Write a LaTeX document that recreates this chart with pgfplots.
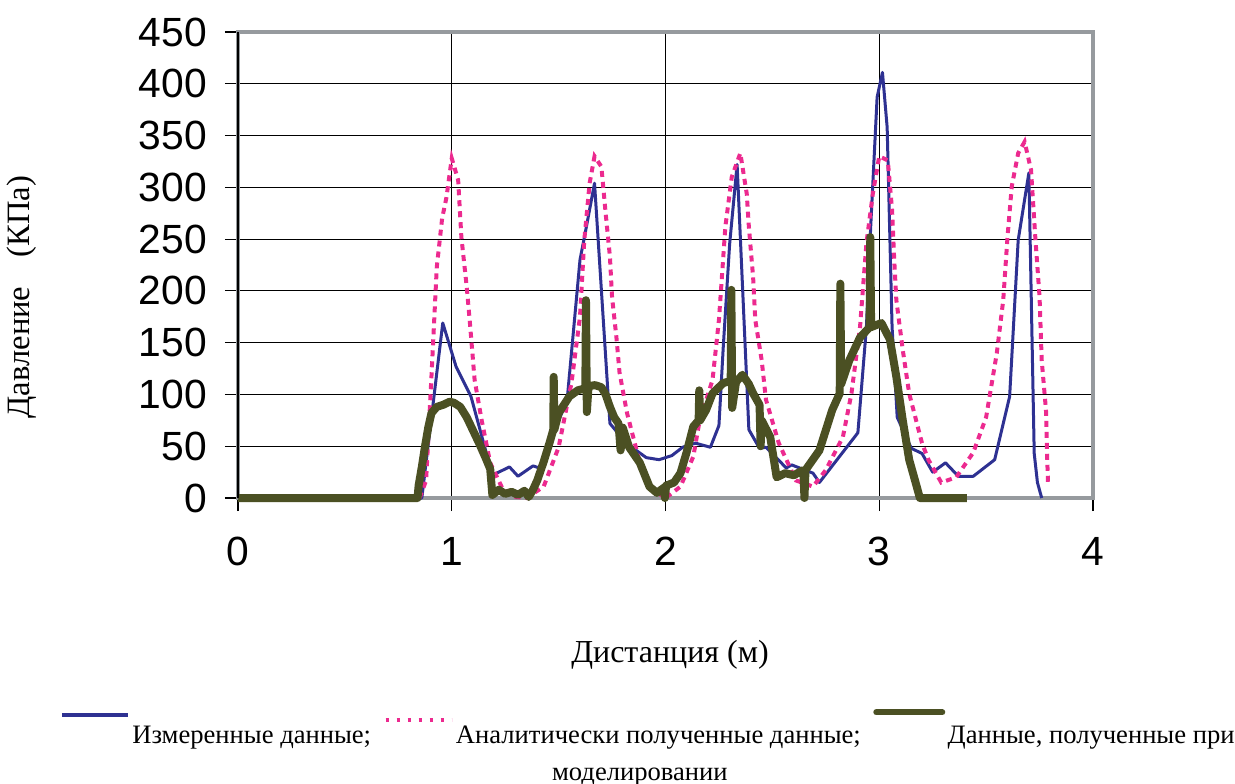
\documentclass[border=0pt]{standalone}
\usepackage{fontspec}
\setmainfont{Liberation Serif}
\newfontfamily\arialfont{Liberation Sans}
\usepackage{pgfplots}
\pgfplotsset{compat=1.18}
\definecolor{cblue}{RGB}{46,49,146}
\definecolor{cpink}{RGB}{236,42,143}
\definecolor{colive}{RGB}{75,80,35}
\definecolor{cframe}{RGB}{150,154,158}
\begin{document}
\begin{tikzpicture}
\useasboundingbox (-119pt,-142.5pt) rectangle (498.5pt,249pt);
\begin{axis}[
  at={(0pt,0pt)}, anchor=south west,
  scale only axis, width=427.5pt, height=233pt,
  xmin=0, xmax=4, ymin=0, ymax=450,
  xtick={0,1,2,3,4}, ytick={0,50,...,450},
  grid=major, major grid style={black, line width=0.6pt},
  axis line style={cframe, line width=2pt},
  tick align=outside, tick pos=left, major tick length=6.5pt,
  tick style={black, line width=0.6pt},
  ticklabel style={font=\arialfont\fontsize{20.4}{21}\selectfont},
  yticklabel style={xshift=-5.5pt},
  xticklabel style={yshift=-9.5pt},
  /pgf/number format/assume math mode=true,
  clip=false,
  xlabel={Дистанция (м)},
  xlabel style={at={(axis description cs:0.5053,-0.3369)}, anchor=center, font=\fontsize{16}{19}\selectfont},
  ylabel={Давление\hspace{0.9em}(КПа)},
  ylabel style={at={(axis description cs:-0.2526,0.4313)}, anchor=center, font=\fontsize{16.3}{19}\selectfont},
  legend columns=3,
  legend cell align=left,
  legend style={draw=none, fill=none, at={(axis description cs:-0.2082,-0.4536)}, anchor=north west,
    inner sep=0pt, outer sep=0pt, font=\fontsize{13.3}{16}\selectfont,
    nodes={inner sep=0pt},
    /tikz/every odd column/.append style={column sep=1.2pt},
    /tikz/every even column/.append style={column sep=6.2pt}},
]
\addplot[cblue, line width=1.5pt, line join=round,
  legend image code/.code={\draw[cblue, line width=2pt] (0pt,10.5pt) -- (33pt,10.5pt);}]
coordinates {
(0,0)(0.86,0)(0.958,169)(1.02,127)(1.09,98)(1.19,22)(1.27,30)(1.31,21)(1.38,31)(1.41,29)
(1.54,95)(1.60,230)(1.63,262)(1.668,304)(1.74,72)(1.816,53)(1.91,39)(1.97,37)(2.03,41)
(2.08,49)(2.14,53)(2.21,49)(2.25,70)(2.27,145)(2.30,245)(2.335,322)(2.39,66)(2.44,48)
(2.47,49)(2.565,29)(2.59,32)(2.69,24)(2.72,15)(2.90,63)(2.94,165)(2.96,262)(2.99,387)
(3.015,411)(3.037,358)(3.06,165)(3.084,78)(3.15,48)(3.20,43)(3.25,25)(3.31,34)(3.37,21)
(3.44,21)(3.54,37)(3.61,98)(3.65,249)(3.70,314)(3.725,43)(3.74,15)(3.76,0)
};
\addlegendentry{Измеренные данные;}
\addplot[cpink, line width=2pt, dash pattern=on 3pt off 2.5pt,
  legend image code/.code={\draw[cpink, line width=2pt, dash pattern=on 1.5pt off 4pt] (0pt,8pt) -- (33pt,8pt);}]
coordinates {
(0.85,0)(0.88,17)(0.905,117)(0.93,223)(0.955,270)(0.975,290)(1.0,328)(1.03,307)(1.045,252)
(1.07,204)(1.085,169)(1.107,114)(1.14,75)(1.18,34)(1.24,8)(1.30,1)(1.35,0)(1.43,11)(1.50,49)
(1.56,111)(1.60,175)(1.62,249)(1.645,304)(1.668,330)(1.70,320)(1.72,275)(1.74,233)(1.75,194)
(1.77,156)(1.785,121)(1.82,82)(1.88,34)(1.94,8)(2.0,0)(2.07,11)(2.13,40)(2.16,75)(2.22,114)
(2.25,172)(2.28,262)(2.31,310)(2.35,333)(2.38,294)(2.39,262)(2.41,213)(2.42,172)(2.45,133)
(2.47,95)(2.53,53)(2.61,17)(2.69,11)(2.75,27)(2.83,59)(2.87,101)(2.91,165)(2.94,246)
(2.97,294)(3.0,330)(3.04,326)(3.06,278)(3.07,230)(3.08,191)(3.11,143)(3.14,101)(3.20,53)
(3.23,37)(3.29,15)(3.36,20)(3.44,44)(3.50,78)(3.55,140)(3.58,191)(3.60,252)(3.62,301)
(3.65,333)(3.68,344)(3.71,317)(3.73,252)(3.75,194)(3.76,133)(3.78,85)(3.785,43)(3.79,11)
};
\addlegendentry{Аналитически полученные данные;}
\addplot[colive, line width=4pt, line join=round,
  legend image code/.code={\draw[colive, line width=3pt, line cap=round] (0pt,12pt) -- (33pt,12pt);}]
coordinates {
(0,0)(0.84,0)(0.845,12)(0.86,30)(0.875,50)(0.89,68)(0.905,82)(0.93,88)(0.96,90)(0.99,93)
(1.01,92)(1.04,88)(1.07,78)(1.10,65)(1.13,52)(1.16,38)(1.18,28)(1.19,3)(1.22,8)(1.25,4)
(1.28,6)(1.31,3)(1.34,7)(1.36,1)(1.38,8)(1.40,17)(1.43,35)(1.46,55)(1.475,66)(1.477,117)
(1.48,66)(1.50,82)(1.55,98)(1.59,104)(1.625,106)(1.628,191)(1.632,83)(1.64,108)(1.67,109)
(1.70,107)(1.72,100)(1.74,88)(1.76,78)(1.78,72)(1.79,46)(1.80,68)(1.83,49)(1.88,34)
(1.925,11)(1.96,5)(1.993,10)(1.997,0)(2.003,12)(2.04,15)(2.07,24)(2.10,45)(2.13,69)
(2.155,75)(2.158,104)(2.162,75)(2.19,85)(2.22,101)(2.27,111)(2.305,113)(2.308,201)
(2.312,87)(2.33,112)(2.36,119)(2.39,110)(2.41,101)(2.44,90)(2.445,50)(2.45,75)(2.49,59)
(2.52,20)(2.56,24)(2.60,22)(2.645,27)(2.65,0)(2.655,27)(2.72,46)(2.78,85)(2.815,101)
(2.818,207)(2.822,110)(2.86,133)(2.91,155)(2.955,165)(2.958,252)(2.962,165)(3.01,169)
(3.05,153)(3.08,117)(3.11,75)(3.14,37)(3.17,15)(3.19,0)(3.41,0)
};
\addlegendentry{Данные, полученные при}
\draw[black, line width=1.2pt] (axis description cs:0,0) -- (axis description cs:0,1);
\node[font=\fontsize{13.3}{16}\selectfont, anchor=base] at (axis description cs:0.470,-0.6052) {моделировании};
\end{axis}
\end{tikzpicture}
\end{document}
